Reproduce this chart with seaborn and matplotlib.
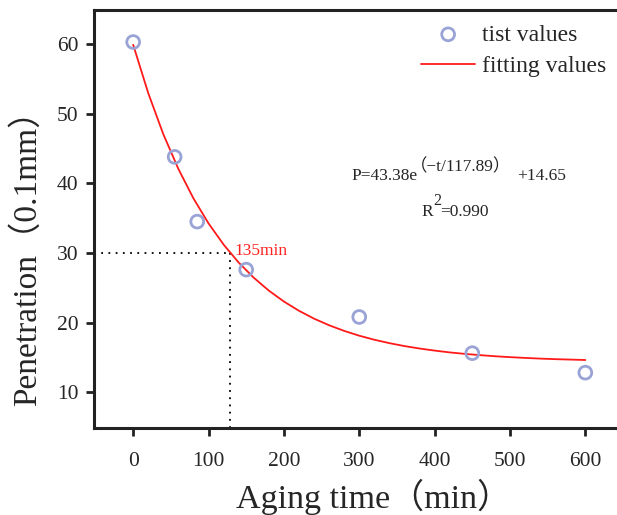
import matplotlib
matplotlib.use("Agg")
import matplotlib.pyplot as plt
import seaborn as sns
import pandas as pd

# ---- data ----
aging_time = [0, 55, 85, 150, 300, 450, 600]
penetration = [60.3, 43.8, 34.5, 27.6, 20.8, 15.6, 12.8]

fit_time = [0, 20, 40, 60, 80, 100, 120, 140, 160, 180, 200, 220, 240, 260, 280,
            300, 320, 340, 360, 380, 400, 420, 440, 460, 480, 500, 520, 540, 560, 580, 600]
fit_penetration = [59.90, 52.95, 47.05, 42.06, 37.83, 34.24, 31.20, 28.62, 26.44, 24.59,
                   23.02, 21.69, 20.56, 19.61, 18.80, 18.11, 17.53, 17.04, 16.62, 16.27,
                   15.97, 15.71, 15.50, 15.32, 15.16, 15.03, 14.92, 14.82, 14.74, 14.68, 14.62]

x_ticks = [0, 100, 200, 300, 400, 500, 600]
y_ticks = [10, 20, 30, 40, 50, 60]
cross_time = 129
cross_pen = 30
cross_label = "135min"

sns.set_theme(style="ticks")
plt.rcParams["font.family"] = ["Liberation Serif", "Noto Sans CJK SC"]
plt.rcParams["mathtext.fontset"] = "stix"

fig = plt.figure(figsize=(6.17, 5.15), dpi=100)
ax = fig.add_axes([94 / 617, 1 - 428 / 515, 529 / 617, 418 / 515])

pts = pd.DataFrame({"t": aging_time, "p": penetration})
fit = pd.DataFrame({"t": fit_time, "p": fit_penetration})

sns.lineplot(data=fit, x="t", y="p", ax=ax, color="#ff1a1a", lw=1.3,
             label="fitting values", zorder=3)
sns.scatterplot(data=pts, x="t", y="p", ax=ax, marker="o", s=85,
                facecolor="none", edgecolor="#9aa3d6", linewidth=2.0,
                label="tist values", zorder=4)

ax.set_xlim(-52, 650)
ax.set_ylim(4.85, 64.9)
ax.set_xticks(x_ticks)
ax.set_yticks(y_ticks)

# dotted guide lines
ax.plot([-52, cross_time], [cross_pen, cross_pen], color="black", lw=1.3,
        linestyle=(0, (1, 3)), zorder=2)
ax.plot([cross_time, cross_time], [4.85, cross_pen], color="black", lw=1.3,
        linestyle=(0, (1, 3)), zorder=2)
ax.text(cross_time + 6, cross_pen + 0.3, cross_label, color="#ff2020",
        fontsize=12.5, ha="left", va="center")

# equation
ax.text(289, 41.0, "P=43.38e", fontsize=12.5, ha="left", va="center")
ax.text(367, 42.3, "（−t/117.89）", fontsize=12.5, ha="left", va="center")
ax.text(509, 41.0, "+14.65", fontsize=12.5, ha="left", va="center")
ax.text(382.3, 35.86, "R", fontsize=12.5, ha="left", va="center")
ax.text(398.0, 37.4, "2", fontsize=11.5, ha="left", va="center")
ax.text(407.5, 35.86, "=0.990", fontsize=12.5, ha="left", va="center")

for s in ax.spines.values():
    s.set_linewidth(2.2)
    s.set_color("#222222")
ax.tick_params(axis="both", direction="out", length=6, width=2, labelsize=15.5,
               color="#222222", pad=5)
ax.tick_params(axis="x", pad=11)
ax.tick_params(top=False, right=False)

ax.set_xlabel("Aging time（min）", fontsize=24.5)
ax.set_ylabel("Penetration（0.1mm）", fontsize=24)
ax.xaxis.label.set_va("center")
ax.yaxis.label.set_va("center")
ax.xaxis.set_label_coords((373 - 94) / 529, (428 - 497) / 418)
ax.yaxis.set_label_coords((27 - 94) / 529, (428 - 250) / 418)

h, l = ax.get_legend_handles_labels()
order = [l.index("tist values"), l.index("fitting values")]
ax.legend([h[i] for i in order], [l[i] for i in order], frameon=False,
          fontsize=17, loc="upper left", bbox_to_anchor=(421 / 617, 1 - 24 / 515),
          bbox_transform=fig.transFigure, handlelength=2.3, handletextpad=0.3,
          labelspacing=0.43, borderaxespad=0, borderpad=0)

fig.savefig("out.png", dpi=100)
